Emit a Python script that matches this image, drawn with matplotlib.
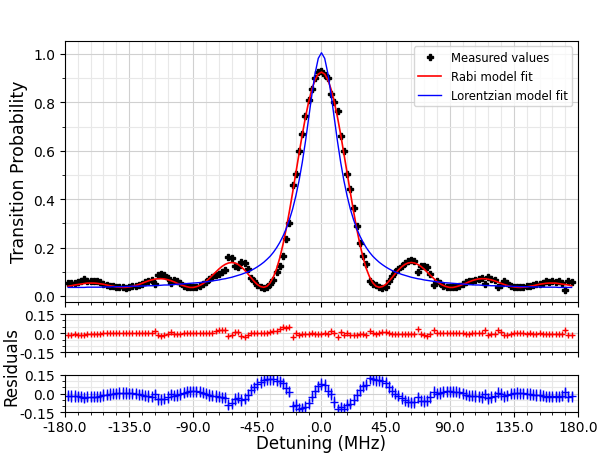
import numpy as np
import matplotlib.pyplot as plt
from matplotlib.ticker import MultipleLocator, FormatStrFormatter

# scan grid (MHz)
detuning = np.arange(-177.75, 176.0, 2.25)

measured = [
    0.052, 0.055, 0.054, 0.058, 0.060, 0.068, 0.060, 0.062, 0.061, 0.060,
    0.058, 0.050, 0.046, 0.042, 0.039, 0.037, 0.035, 0.035, 0.034, 0.037,
    0.039, 0.042, 0.047, 0.051, 0.057, 0.061, 0.066, 0.050, 0.088, 0.090,
    0.085, 0.072, 0.052, 0.065, 0.060, 0.054, 0.042, 0.037, 0.035, 0.035,
    0.037, 0.041, 0.050, 0.059, 0.071, 0.080, 0.085, 0.090, 0.100, 0.105,
    0.162, 0.155, 0.125, 0.118, 0.140, 0.135, 0.110, 0.075, 0.062, 0.045,
    0.038, 0.033, 0.035, 0.048, 0.065, 0.098, 0.125, 0.165, 0.235, 0.300,
    0.460, 0.505, 0.600, 0.670, 0.745, 0.810, 0.855, 0.900, 0.925, 0.930,
    0.915, 0.900, 0.835, 0.800, 0.765, 0.660, 0.600, 0.505, 0.440, 0.365,
    0.290, 0.220, 0.165, 0.130, 0.060, 0.050, 0.043, 0.035, 0.032, 0.035,
    0.060, 0.084, 0.100, 0.112, 0.125, 0.138, 0.146, 0.148, 0.145, 0.100,
    0.125, 0.125, 0.120, 0.090, 0.045, 0.060, 0.052, 0.040, 0.036, 0.035,
    0.036, 0.037, 0.040, 0.048, 0.058, 0.063, 0.062, 0.066, 0.068, 0.072,
    0.050, 0.080, 0.070, 0.065, 0.035, 0.045, 0.062, 0.055, 0.042, 0.038,
    0.036, 0.037, 0.036, 0.040, 0.042, 0.045, 0.048, 0.050, 0.053, 0.060,
    0.058, 0.062, 0.058, 0.060, 0.052, 0.025, 0.060, 0.058,
]

rabi_fit = [
    0.040, 0.042, 0.045, 0.047, 0.049, 0.051, 0.053, 0.053, 0.053, 0.052,
    0.050, 0.048, 0.045, 0.042, 0.040, 0.037, 0.036, 0.035, 0.0355, 0.037,
    0.039, 0.043, 0.047, 0.052, 0.057, 0.062, 0.066, 0.069, 0.071, 0.071,
    0.070, 0.067, 0.063, 0.058, 0.052, 0.047, 0.042, 0.038, 0.035, 0.035,
    0.038, 0.043, 0.050, 0.060, 0.072, 0.085, 0.098, 0.111, 0.122, 0.1305,
    0.136, 0.138, 0.136, 0.130, 0.120, 0.107, 0.092, 0.0756, 0.060, 0.047,
    0.0385, 0.0355, 0.040, 0.054, 0.078, 0.112, 0.157, 0.213, 0.277, 0.350,
    0.427, 0.508, 0.588, 0.666, 0.738, 0.802, 0.854, 0.893, 0.917, 0.925,
    0.917, 0.893, 0.854, 0.802, 0.738, 0.666, 0.588, 0.508, 0.427, 0.350,
    0.277, 0.213, 0.157, 0.112, 0.078, 0.054, 0.040, 0.0355, 0.0385, 0.047,
    0.060, 0.0756, 0.092, 0.107, 0.120, 0.130, 0.136, 0.138, 0.136, 0.1305,
    0.122, 0.111, 0.098, 0.085, 0.072, 0.060, 0.050, 0.043, 0.038, 0.035,
    0.035, 0.038, 0.042, 0.047, 0.052, 0.058, 0.063, 0.067, 0.070, 0.071,
    0.071, 0.069, 0.066, 0.062, 0.057, 0.052, 0.047, 0.043, 0.039, 0.037,
    0.0355, 0.035, 0.036, 0.037, 0.040, 0.042, 0.045, 0.048, 0.050, 0.052,
    0.053, 0.053, 0.053, 0.051, 0.049, 0.047, 0.045, 0.042,
]

lorentz_fit = [
    0.035, 0.035, 0.035, 0.035, 0.035, 0.035, 0.036, 0.036, 0.036, 0.036,
    0.036, 0.037, 0.037, 0.037, 0.038, 0.038, 0.038, 0.038, 0.039, 0.039,
    0.040, 0.040, 0.040, 0.041, 0.041, 0.042, 0.042, 0.043, 0.043, 0.044,
    0.045, 0.045, 0.046, 0.047, 0.048, 0.049, 0.050, 0.051, 0.052, 0.053,
    0.054, 0.055, 0.057, 0.058, 0.060, 0.062, 0.064, 0.066, 0.069, 0.071,
    0.074, 0.077, 0.081, 0.085, 0.089, 0.094, 0.099, 0.105, 0.112, 0.120,
    0.129, 0.139, 0.151, 0.164, 0.180, 0.199, 0.221, 0.247, 0.278, 0.315,
    0.359, 0.413, 0.476, 0.551, 0.638, 0.733, 0.831, 0.919, 0.982, 1.005,
    0.982, 0.919, 0.831, 0.733, 0.638, 0.551, 0.476, 0.413, 0.359, 0.315,
    0.278, 0.247, 0.221, 0.199, 0.180, 0.164, 0.151, 0.139, 0.129, 0.120,
    0.112, 0.105, 0.099, 0.094, 0.089, 0.085, 0.081, 0.077, 0.074, 0.071,
    0.069, 0.066, 0.064, 0.062, 0.060, 0.058, 0.057, 0.055, 0.054, 0.053,
    0.052, 0.051, 0.050, 0.049, 0.048, 0.047, 0.046, 0.045, 0.045, 0.044,
    0.043, 0.043, 0.042, 0.042, 0.041, 0.041, 0.040, 0.040, 0.040, 0.039,
    0.039, 0.038, 0.038, 0.038, 0.038, 0.037, 0.037, 0.037, 0.036, 0.036,
    0.036, 0.036, 0.036, 0.035, 0.035, 0.035, 0.035, 0.035,
]

rabi_err = 0.008
lorentz_err = 0.045

measured = np.array(measured)
rabi_res = np.array(rabi_fit) - measured
lorentz_res = np.array(lorentz_fit) - measured

fig = plt.figure(figsize=(6, 4.56), dpi=100)
ax = fig.add_axes([0.1083, 0.3362, 0.855, 0.5724])
ax_r = fig.add_axes([0.1083, 0.2252, 0.855, 0.0840])
ax_l = fig.add_axes([0.1083, 0.0936, 0.855, 0.0825])

ax.plot(detuning, measured, 'P', color='black', markersize=5, label='Measured values')
ax.plot(detuning, rabi_fit, color='red', lw=1.2, label='Rabi model fit')
ax.plot(detuning, lorentz_fit, color='blue', lw=1.0, label='Lorentzian model fit')
ax.set_ylim(-0.024, 1.055)
ax.set_ylabel('Transition Probability', fontsize=12.5)
ax.yaxis.set_major_locator(MultipleLocator(0.2))
ax.yaxis.set_minor_locator(MultipleLocator(0.1))
ax.yaxis.set_major_formatter(FormatStrFormatter('%.1f'))
ax.legend(loc='upper right', fontsize='small')

ax_r.errorbar(detuning, rabi_res, yerr=rabi_err, fmt='+', color='red',
              markersize=5, elinewidth=1, lw=1)
ax_l.errorbar(detuning, lorentz_res, yerr=lorentz_err, fmt='+', color='blue',
              markersize=6, elinewidth=1, lw=1)

for a in (ax_r, ax_l):
    a.set_ylim(-0.15, 0.15)
    a.set_yticks([-0.15, 0.0, 0.15])
    a.set_yticklabels(['-0.15', '0.0', '0.15'])
    a.yaxis.set_minor_locator(MultipleLocator(0.05))

for a in (ax, ax_r, ax_l):
    a.set_xlim(-180, 180)
    a.xaxis.set_major_locator(MultipleLocator(45))
    a.xaxis.set_minor_locator(MultipleLocator(9))
    a.xaxis.set_major_formatter(FormatStrFormatter('%.1f'))
    a.grid(which='major', color='#d0d0d0', lw=0.8)
    a.grid(which='minor', color='#e8e8e8', lw=0.8)
    a.set_axisbelow(True)
    a.tick_params(labelsize=10)

ax.tick_params(labelbottom=False)
ax_r.tick_params(labelbottom=False)
ax_l.tick_params(axis='x', pad=2)
ax_l.set_xlabel('Detuning (MHz)', fontsize=12, labelpad=0)
fig.text(0.019, 0.197, 'Residuals', rotation=90, fontsize=12, ha='center', va='center')

fig.savefig('out.png', dpi=100)
